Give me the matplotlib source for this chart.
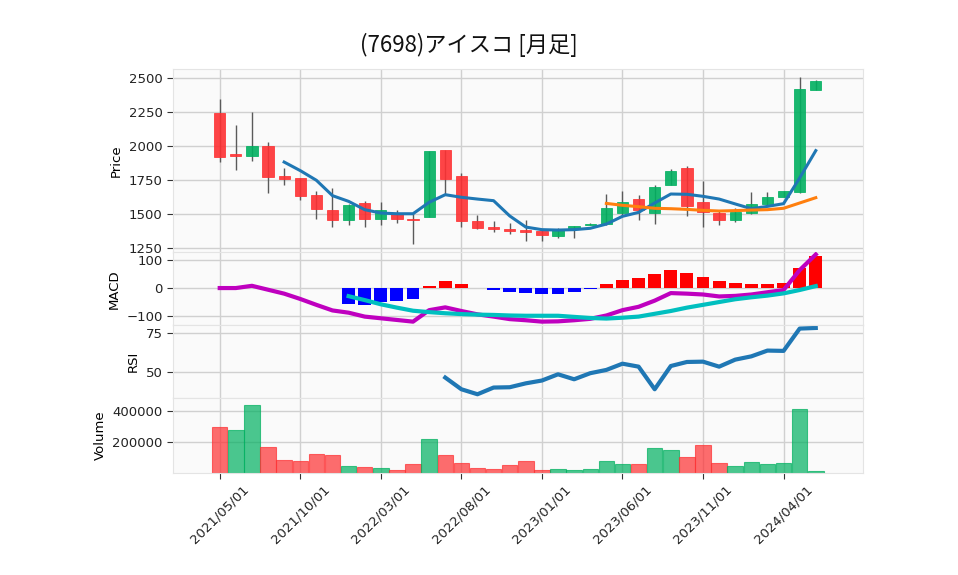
import numpy as np
import matplotlib
matplotlib.use("Agg")
import matplotlib.pyplot as plt
from matplotlib.ticker import FuncFormatter

plt.rcParams['font.family'] = ['DejaVu Sans', 'Noto Sans CJK JP']

# ---------------- data (monthly, 2021/05 .. 2024/06) ----------------
tick_labels = ['2021/05/01', '2021/10/01', '2022/03/01', '2022/08/01',
               '2023/01/01', '2023/06/01', '2023/11/01', '2024/04/01']
tick_positions = [0, 5, 10, 15, 20, 25, 30, 35]

opens = [2245, 1944, 1924, 2003, 1777, 1767, 1642, 1529, 1453, 1581,
         1461, 1507, 1466, 1475, 1973, 1782, 1451, 1407, 1390, 1385,
         1377, 1336, 1390, 1417, 1424, 1510, 1613, 1505, 1711, 1841,
         1588, 1510, 1453, 1507, 1571, 1625, 1659, 2409]
highs = [2346, 2152, 2250, 2030, 1838, 1767, 1667, 1691, 1572, 1593,
         1588, 1532, 1502, 1966, 1973, 1801, 1490, 1449, 1434, 1458,
         1380, 1397, 1414, 1434, 1647, 1667, 1637, 1713, 1831, 1853,
         1740, 1520, 1544, 1662, 1662, 1672, 2507, 2488]
lows = [1882, 1824, 1887, 1654, 1713, 1605, 1463, 1404, 1419, 1404,
        1419, 1434, 1279, 1475, 1642, 1404, 1387, 1368, 1355, 1304,
        1299, 1324, 1324, 1417, 1417, 1483, 1453, 1426, 1711, 1488,
        1407, 1422, 1441, 1502, 1556, 1625, 1655, 2409]
closes = [1917, 1924, 2003, 1770, 1755, 1630, 1534, 1453, 1569, 1461,
          1532, 1461, 1458, 1966, 1755, 1446, 1395, 1387, 1373, 1370,
          1343, 1390, 1414, 1429, 1547, 1588, 1532, 1701, 1819, 1556,
          1512, 1453, 1515, 1576, 1627, 1672, 2419, 2478]
volumes = [298000, 279000, 438000, 168000, 85000, 79000, 123000, 117000, 49000, 43000,
           36000, 21000, 62000, 221000, 117000, 66000, 36000, 30000, 53000, 79000,
           21000, 30000, 23000, 30000, 81000, 62000, 62000, 164000, 151000, 106000,
           183000, 66000, 49000, 74000, 62000, 68000, 413000, 17000]

# moving averages, starting at index 4 and 24
ma5 = [1882, 1819, 1748, 1635, 1593, 1532, 1507, 1502, 1502, 1586,
       1642, 1623, 1610, 1598, 1486, 1404, 1385, 1382, 1385, 1395,
       1426, 1483, 1512, 1581, 1647, 1645, 1630, 1610, 1574, 1539,
       1556, 1576, 1765, 1966]
ma25 = [1578, 1564, 1554, 1542, 1539, 1534, 1527, 1522, 1525, 1529,
        1532, 1542, 1581, 1620]

# MACD (from index 0), signal & histogram (from index 8)
macd = [0, 0, 8, -6, -20, -39, -60, -80, -88, -102,
        -108, -114, -120, -79, -69, -82, -94, -102, -111, -115,
        -120, -119, -115, -110, -98, -79, -67, -45, -18, -20,
        -23, -30, -28, -23, -15, -7, 64, 120]
signal = [-29, -43, -58, -70, -81, -86, -90, -93, -95, -96,
          -98, -99, -99, -99, -103, -107, -109, -106, -102, -92,
          -82, -70, -60, -50, -40, -33, -27, -19, -7, 7]
hist = [-56, -60, -51, -46, -39, 8, 25, 15, 1, -6,
        -13, -17, -21, -21, -13, -2, 14, 29, 37, 50,
        64, 54, 39, 25, 18, 14, 14, 18, 72, 114]

# RSI (from index 14)
rsi = [46.4, 38.9, 35.7, 40.0, 40.2, 42.7, 44.5, 48.5, 45.3, 49.2,
       51.3, 55.3, 53.4, 38.9, 53.8, 56.4, 56.6, 53.4, 57.9, 60.0,
       63.7, 63.5, 77.8, 78.2]

# ---------------- drawing ----------------
n = len(closes)
x = np.arange(n)
o = np.array(opens, float); c = np.array(closes, float)
h = np.array(highs, float); l = np.array(lows, float)
vol = np.array(volumes, float)

UP, DOWN = '#00b060', '#fe3032'
FACE = '#fafafa'
GRID = '#d0d0d0'
FS = 9.5

W, H = 958, 575
fig = plt.figure(figsize=(W / 100, H / 100), dpi=100)
L, R = 173 / W, 862.5 / W


def rect(top, bot):
    return [L, 1 - bot / H, R - L, (bot - top) / H]


ax1 = fig.add_axes(rect(69.3, 252.5))
ax2 = fig.add_axes(rect(252.5, 325), sharex=ax1)
ax3 = fig.add_axes(rect(325, 398), sharex=ax1)
ax4 = fig.add_axes(rect(398, 472.5), sharex=ax1)

for ax in (ax1, ax2, ax3, ax4):
    ax.set_facecolor(FACE)
    ax.grid(True, color=GRID, lw=1.0)
    ax.set_axisbelow(True)
    for s in ax.spines.values():
        s.set_color('#e4e4e4')
    ax.tick_params(axis='y', length=4, color='#333333', labelsize=FS, labelcolor='#222222')
    ax.tick_params(axis='x', length=0, labelbottom=False)

# candles
up = c >= o
ccol = np.where(up, UP, DOWN)
ax1.vlines(x, l, h, color='#5a5a5a', lw=1.0, zorder=2)
ax1.bar(x, np.maximum(np.abs(c - o), 4), bottom=np.minimum(o, c), width=0.7,
        color=ccol, edgecolor=ccol, lw=0.6, alpha=0.9, zorder=3)
ax1.plot(x[4:], ma5, color='#1f77b4', lw=2.2, zorder=4)
ax1.plot(x[24:], ma25, color='#ff7f0e', lw=2.2, zorder=4)
ax1.set_ylim(1217, 2564)
ax1.set_yticks([1250, 1500, 1750, 2000, 2250, 2500])
ax1.set_ylabel('Price', fontsize=FS)

# MACD
hcol = ['#ff0000' if v >= 0 else '#0000ff' for v in hist]
ax2.bar(x[8:], hist, width=0.8, color=hcol, zorder=2)
ax2.plot(x, macd, color='#bf00bf', lw=3.0, zorder=3)
ax2.plot(x[8:], signal, color='#00bfbf', lw=3.0, zorder=4)
ax2.set_ylim(-132, 127)
ax2.set_yticks([-100, 0, 100])
ax2.yaxis.set_major_formatter(FuncFormatter(lambda v, p: f'{v:.0f}'.replace('-', '\u2212')))
ax2.set_ylabel('MACD', fontsize=FS)

# RSI
ax3.plot(x[14:], rsi, color='#1f77b4', lw=3.0)
ax3.set_ylim(33.3, 80.1)
ax3.set_yticks([50, 75])
ax3.set_ylabel('RSI', fontsize=FS)

# Volume
vup = np.empty(n, bool)
vup[0] = c[0] >= o[0]
vup[1:] = c[1:] >= c[:-1]
vcol = np.where(vup, UP, DOWN)
ax4.bar(x, vol, width=0.96, color=vcol, alpha=0.7, edgecolor=vcol, lw=0.8, zorder=2)
ax4.set_ylim(0.3 * vol.min(), 1.1 * vol.max())
ax4.set_yticks([200000, 400000])
ax4.yaxis.set_major_formatter(FuncFormatter(lambda v, p: f'{v:.0f}'))
ax4.set_ylabel('Volume', fontsize=FS)

ax1.set_xlim(-2.9, 39.9)
ax4.set_xticks(tick_positions)
ax4.set_xticklabels(tick_labels, rotation=45, ha='center')
ax4.tick_params(axis='x', length=4, color='#333333', labelbottom=True, labelsize=FS,
                labelcolor='#222222')
for ax in (ax1, ax2, ax3):
    ax.tick_params(axis='x', labelbottom=False)

fig.text(469 / W, 1 - 45 / H, '(7698)アイスコ [月足]', ha='center', va='center',
         fontsize=16, color='#111111', family=['Noto Sans CJK JP', 'DejaVu Sans'])

fig.savefig('out.png', dpi=100)
